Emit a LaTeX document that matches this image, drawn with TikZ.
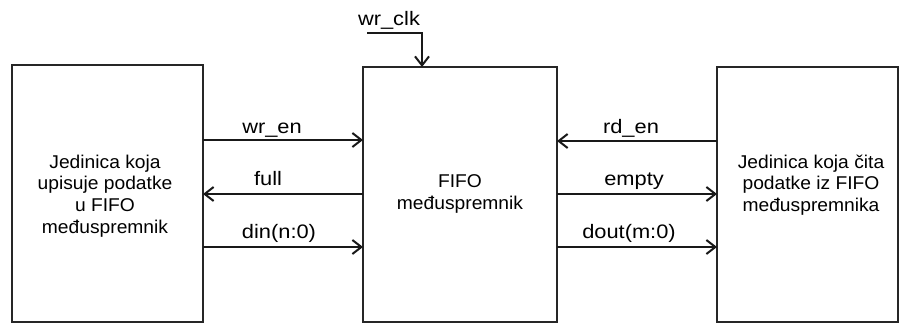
\documentclass[tikz,border=0pt]{standalone}
\usepackage{fontspec}
\setmainfont{Liberation Sans}
\newfontfamily\sigfont[FakeStretch=1.12]{Liberation Sans}
\newfontfamily\boxfont[FakeStretch=1.04]{Liberation Sans}
\usetikzlibrary{arrows.meta}
\begin{document}
\begin{tikzpicture}[x=1pt,y=-1pt,
  block/.style={draw=black!85, line width=2pt, minimum width=#1, inner sep=0pt, outer sep=0pt},
  blocktext/.style={align=center, font=\boxfont\fontsize{18.5}{21.7}\selectfont},
  sig/.style={draw=black!90, line width=2.2pt, -{Straight Barb[length=9pt,width=14pt,line width=2pt]}},
  lbl/.style={anchor=base, inner sep=0pt, font=\sigfont\fontsize{19.5}{22}\selectfont}]
  \useasboundingbox (0,0) rectangle (901,324);

  % the three blocks
  \node[block=191pt, minimum height=257pt] (wu) at (107.5,193.5) {};
  \node[block=194pt, minimum height=255pt] (ff) at (460,194.5) {};
  \node[block=181pt, minimum height=255pt] (ru) at (807.5,194.5) {};

  % block captions
  \node[blocktext] (wut) at (105,196) {Jedinica koja\\upisuje podatke\\u FIFO\\međuspremnik};
  \node[blocktext] (fft) at (460,194) {FIFO\\međuspremnik};
  \node[blocktext] (rut) at (811,185) {Jedinica koja čita\\podatke iz FIFO\\međuspremnika};

  % write side signals
  \draw[sig] (wu.east |- 0,140) -- (ff.west |- 0,140);
  \draw[sig] (ff.west |- 0,194) -- (wu.east |- 0,194);
  \draw[sig] (wu.east |- 0,247) -- (ff.west |- 0,247);
  \node[lbl] (wren) at (272,133) {wr\_en};
  \node[lbl] (full) at (268,185) {full};
  \node[lbl] (din)  at (279,238) {din(n:0)};

  % read side signals
  \draw[sig] (ru.west |- 0,141) -- (ff.east |- 0,141);
  \draw[sig] (ff.east |- 0,194) -- (ru.west |- 0,194);
  \draw[sig] (ff.east |- 0,247) -- (ru.west |- 0,247);
  \node[lbl] (rden)  at (631,133) {rd\_en};
  \node[lbl] (empty) at (634,185) {empty};
  \node[lbl] (dout)  at (629,238) {dout(m:0)};

  % write clock
  \coordinate (clkin) at (367,33);
  \node[lbl] (wrclk) at (389,25) {wr\_clk};
  \draw[sig] (clkin) -| (ff.north -| 422,0);
\end{tikzpicture}
\end{document}
